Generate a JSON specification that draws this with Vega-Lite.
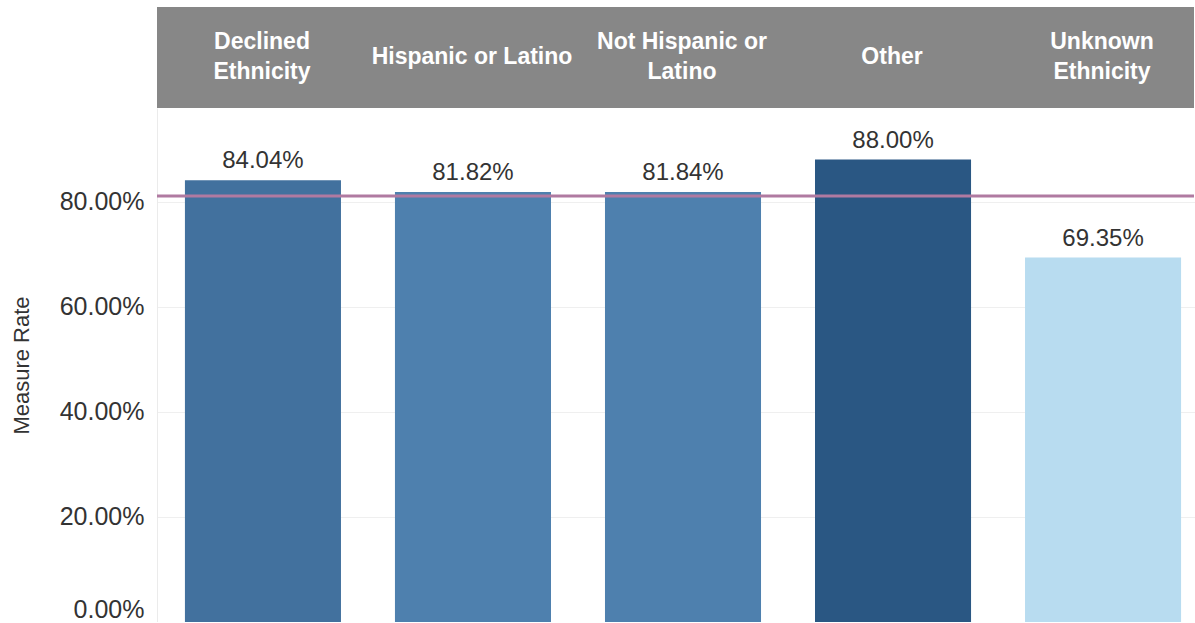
{
  "$schema": "https://vega.github.io/schema/vega-lite/v6.json",
  "padding": {"left": 10, "top": 7, "right": 0, "bottom": 0},
  "datasets": {
    "rates": [
      {"ethnicity": "Declined Ethnicity", "header": "Declined\nEthnicity", "rate": 0.8404},
      {"ethnicity": "Hispanic or Latino", "header": "Hispanic or Latino", "rate": 0.8182},
      {"ethnicity": "Not Hispanic or Latino", "header": "Not Hispanic or\nLatino", "rate": 0.8184},
      {"ethnicity": "Other", "header": "Other", "rate": 0.88},
      {"ethnicity": "Unknown Ethnicity", "header": "Unknown\nEthnicity", "rate": 0.6935}
    ],
    "target": [{"target": 0.8107}]
  },
  "spacing": 0,
  "resolve": {"scale": {"x": "independent"}},
  "vconcat": [
    {
      "width": 1037,
      "height": 101,
      "data": {"name": "rates"},
      "layer": [
        {
          "mark": {"type": "rect", "color": "#878787", "clip": true},
          "encoding": {
            "x": {"field": "ethnicity", "type": "nominal", "sort": null, "scale": {"range": [0, 1050], "paddingInner": 0, "paddingOuter": 0}, "axis": null}
          }
        },
        {
          "transform": [{"filter": "indexof(datum.header, '\\n') >= 0"}],
          "mark": {"type": "text", "color": "#ffffff", "fontWeight": "bold", "fontSize": 23, "font": "Liberation Sans", "lineBreak": "\n", "lineHeight": 30, "baseline": "middle", "dy": -16, "clip": true},
          "encoding": {
            "x": {"field": "ethnicity", "type": "nominal", "sort": null, "scale": {"range": [0, 1050], "paddingInner": 0, "paddingOuter": 0}, "axis": null},
            "text": {"field": "header"}
          }
        },
        {
          "transform": [{"filter": "indexof(datum.header, '\\n') < 0"}],
          "mark": {"type": "text", "color": "#ffffff", "fontWeight": "bold", "fontSize": 23, "font": "Liberation Sans", "baseline": "middle", "dy": -1, "clip": true},
          "encoding": {
            "x": {"field": "ethnicity", "type": "nominal", "sort": null, "scale": {"range": [0, 1050], "paddingInner": 0, "paddingOuter": 0}, "axis": null},
            "text": {"field": "header"}
          }
        }
      ]
    },
    {
      "width": 1037,
      "height": 514,
      "layer": [
        {
          "data": {"name": "rates"},
          "mark": {"type": "bar", "clip": true},
          "encoding": {
            "x": {"field": "ethnicity", "type": "nominal", "sort": null, "scale": {"range": [0, 1052], "paddingInner": 0.257, "paddingOuter": 0.133}, "axis": null},
            "y": {
              "field": "rate", "type": "quantitative", "title": "Measure Rate",
              "scale": {"domain": [0, 0.978], "nice": false},
              "axis": {
                "values": [0, 0.2, 0.4, 0.6, 0.8], "format": ".2%",
                "labelFont": "Liberation Sans", "labelFontSize": 25, "labelColor": "#333333",
                "ticks": false, "labelPadding": 13, "labelFlush": true,
                "domainColor": "#ebebeb", "gridColor": "#efefef",
                "titleFont": "Liberation Sans", "titleFontSize": 22, "titleFontWeight": "normal", "titleColor": "#333333", "titlePadding": 26
              }
            },
            "color": {
              "field": "ethnicity", "type": "nominal", "legend": null,
              "scale": {
                "domain": ["Declined Ethnicity", "Hispanic or Latino", "Not Hispanic or Latino", "Other", "Unknown Ethnicity"],
                "range": ["#42719e", "#4e80ae", "#4e80ae", "#2a5783", "#b8dcf0"]
              }
            }
          }
        },
        {
          "data": {"name": "rates"},
          "mark": {"type": "text", "baseline": "bottom", "dy": -7, "fontSize": 24, "font": "Liberation Sans", "color": "#333333", "clip": true},
          "encoding": {
            "x": {"field": "ethnicity", "type": "nominal", "sort": null},
            "y": {"field": "rate", "type": "quantitative"},
            "text": {"field": "rate", "type": "quantitative", "format": ".2%"}
          }
        },
        {
          "data": {"name": "target"},
          "mark": {"type": "rule", "color": "#b07aa1", "strokeWidth": 3},
          "encoding": {
            "y": {"field": "target", "type": "quantitative"}
          }
        }
      ]
    }
  ],
  "config": {"view": {"stroke": null}}
}
